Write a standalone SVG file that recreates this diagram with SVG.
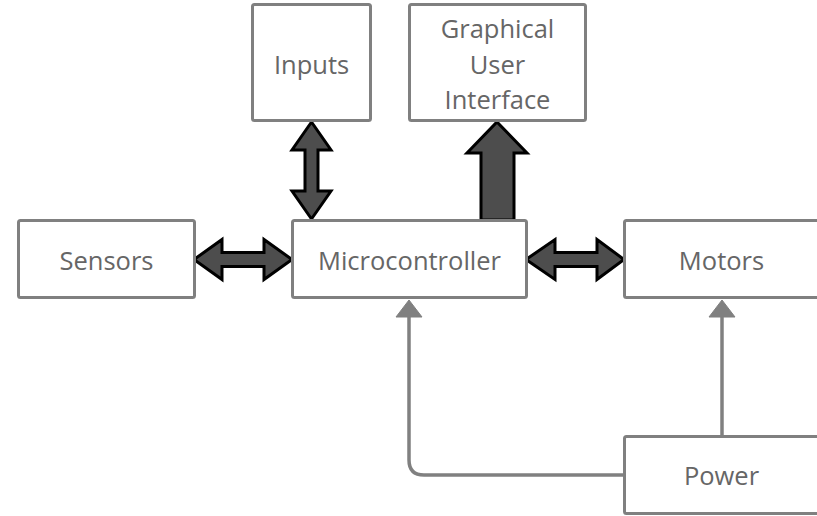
<svg xmlns="http://www.w3.org/2000/svg" width="817" height="516" viewBox="0 0 817 516">
  <style>
    .box { fill: #ffffff; stroke: #808080; stroke-width: 3; }
    .label { font-family: "Open Sans", "Noto Sans", sans-serif; font-size: 25.5px; fill: #666666; text-anchor: middle; dominant-baseline: central; }
    .bus { fill: #4d4d4d; stroke: #000000; stroke-width: 3; stroke-linejoin: miter; }
    .wire { fill: none; stroke: #808080; stroke-width: 3.5; }
    .tip { fill: #808080; stroke: #808080; stroke-width: 1; stroke-linejoin: round; }
  </style>
  <rect width="817" height="516" fill="#ffffff"/>

  <!-- connectors -->
  <g id="connectors">
    <!-- Sensors <-> Microcontroller -->
    <path class="bus" d="M194,259.5 L222,239.5 L222,252.5 L264,252.5 L264,239.5 L292,259.5 L264,279.5 L264,266.5 L222,266.5 L222,279.5 Z"/>
    <!-- Microcontroller <-> Motors -->
    <path class="bus" d="M526,259.5 L555,239.5 L555,252.5 L597,252.5 L597,239.5 L624,259.5 L597,279.5 L597,266.5 L555,266.5 L555,279.5 Z"/>
    <!-- Inputs <-> Microcontroller -->
    <path class="bus" d="M311.5,122 L331,150 L318,150 L318,191 L331,191 L311.5,219 L292,191 L305,191 L305,150 L292,150 Z"/>
    <!-- Microcontroller -> GUI -->
    <path class="bus" d="M497,122 L527,153 L514,153 L514,220 L481,220 L481,153 L467,153 Z"/>
    <!-- Power -> Motors -->
    <line class="wire" x1="722" y1="436" x2="722" y2="314"/>
    <polygon class="tip" points="722,300 735,317 709,317"/>
    <!-- Power -> Microcontroller -->
    <path class="wire" d="M625,475 L424,475 Q409,475 409,460 L409,314"/>
    <polygon class="tip" points="409,300 422,317 396,317"/>
  </g>

  <g id="inputs">
    <rect class="box" x="252.5" y="4.5" width="118" height="116" rx="2"/>
    <text class="label" x="311.5" y="64">Inputs</text>
  </g>

  <g id="gui">
    <rect class="box" x="409.5" y="4.5" width="176" height="116" rx="2"/>
    <text class="label" x="497.5" y="28">Graphical</text>
    <text class="label" x="497.5" y="64">User</text>
    <text class="label" x="497.5" y="99">Interface</text>
  </g>

  <g id="sensors">
    <rect class="box" x="18.5" y="220.5" width="176" height="77" rx="2"/>
    <text class="label" x="106.5" y="260">Sensors</text>
  </g>

  <g id="microcontroller">
    <rect class="box" x="292.5" y="220.5" width="234" height="77" rx="2"/>
    <text class="label" x="409.5" y="260">Microcontroller</text>
  </g>

  <g id="motors">
    <rect class="box" x="624.5" y="220.5" width="200" height="77" rx="2"/>
    <text class="label" x="721.5" y="260">Motors</text>
  </g>

  <g id="power">
    <rect class="box" x="624.5" y="436.5" width="200" height="77" rx="2"/>
    <text class="label" x="721.5" y="475">Power</text>
  </g>
</svg>
